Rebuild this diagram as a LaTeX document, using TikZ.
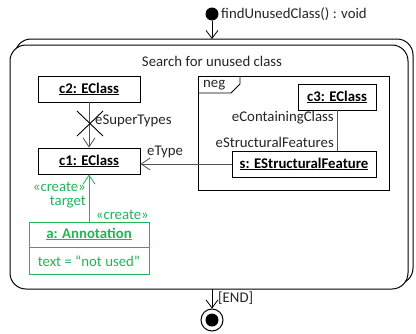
\documentclass[tikz,border=0pt]{standalone}
\usepackage{fontspec}
\setmainfont{Carlito}
\usetikzlibrary{arrows.meta}
\definecolor{creategreen}{RGB}{34,180,90}
\definecolor{linkgray}{RGB}{85,85,85}
\newcommand{\diagfont}{\fontsize{14.8}{16}\selectfont}
\tikzset{
  obj/.style={draw=black, line width=0.9pt, fill=white, inner sep=0pt, font=\diagfont\bfseries},
  link/.style={draw=linkgray, line width=0.9pt},
  nav/.style={link, -{Straight Barb[length=9pt,width=12pt,line width=0.8pt]}},
  lbl/.style={inner sep=0pt, text=black!85, font=\diagfont},
  glbl/.style={inner sep=0pt, text=creategreen, font=\diagfont},
  flow/.style={draw=black, line width=0.9pt, -{Straight Barb[length=8pt,width=12pt,line width=0.8pt]}},
}
\begin{document}
\begin{tikzpicture}[x=1pt, y=-1pt]
\useasboundingbox (0,0) rectangle (416,333);

% start node and signature
\node[circle, fill=black, minimum size=13pt, inner sep=0pt] (start) at (212,14) {};
\node[lbl, anchor=west] (sig) at (221,14) {findUnusedClass() : void};

% stacked activity frame
\draw[line width=1pt, rounded corners=16pt] (15,39) rectangle (413,284);
\draw[line width=1pt, rounded corners=16pt, fill=white] (10,45) rectangle (408,289);
\coordinate (acttop) at (212,39);
\coordinate (actbot) at (212,289);
\draw[flow] (start) -- (acttop);
\node[lbl] (title) at (212,61) {Search for unused class};

% negative application frame
\draw[line width=1pt] (198,76) rectangle (389,190);
\draw[line width=0.9pt] (198,93) -- (231,93) -- (240,84) -- (240,76);
\node[lbl, anchor=west] (neg) at (203,85) {neg};

% objects
\node[obj, minimum width=102pt, minimum height=26pt] (c2) at (89,89) {\underline{c2: EClass}};
\node[obj, minimum width=102pt, minimum height=26pt] (c1) at (89,161) {\underline{c1: EClass}};
\node[obj, minimum width=78pt, minimum height=26pt] (c3) at (337,97) {\underline{c3: EClass}};
\node[obj, minimum width=144pt, minimum height=26pt] (s) at (304,164) {\underline{s: EStructuralFeature}};

% links
\draw[nav] (c2) -- (c1);
\draw[line width=0.9pt] (77,111) -- (103,136) (77,136) -- (103,111);
\node[lbl, anchor=west] (est) at (95,121) {eSuperTypes};

\draw[nav] (s.west) -- (c1.east |- s.west);
\node[lbl, anchor=west] (ety) at (147,152) {eType};

\draw[link] (c3.south) -- (c3.south |- s.north);
\node[lbl, anchor=east] (ecc) at (334,118) {eContainingClass};
\node[lbl, anchor=east] (esf) at (334,142) {eStructuralFeatures};

% created annotation
\node[draw=creategreen, line width=0.9pt, fill=white, minimum width=120pt, minimum height=52pt, inner sep=0pt] (a) at (89,248) {};
\draw[draw=creategreen, line width=0.9pt] (a.west |- 0,247) -- (a.east |- 0,247);
\node[glbl, font=\diagfont\bfseries] (aname) at (89,234) {\underline{a: Annotation}};
\node[glbl] (atext) at (89,261) {text = “not used”};
\draw[draw=creategreen, line width=0.9pt, -{Straight Barb[length=9pt,width=12pt,line width=0.8pt]}] (a.north) -- (c1.south);
\node[glbl, anchor=east] (cr1) at (86,187) {«create»};
\node[glbl, anchor=east] (tgt) at (86,202) {target};
\node[glbl, anchor=east] (cr2) at (149,215) {«create»};

% final node
\node[circle, draw=black, line width=1pt, fill=white, minimum size=22pt, inner sep=0pt] (final) at (212,320) {};
\node[circle, fill=black, minimum size=13pt, inner sep=0pt] (finaldot) at (final.center) {};
\draw[flow] (actbot) -- (final.north);
\node[lbl, anchor=west] (endg) at (218,298) {[END]};
\end{tikzpicture}
\end{document}
